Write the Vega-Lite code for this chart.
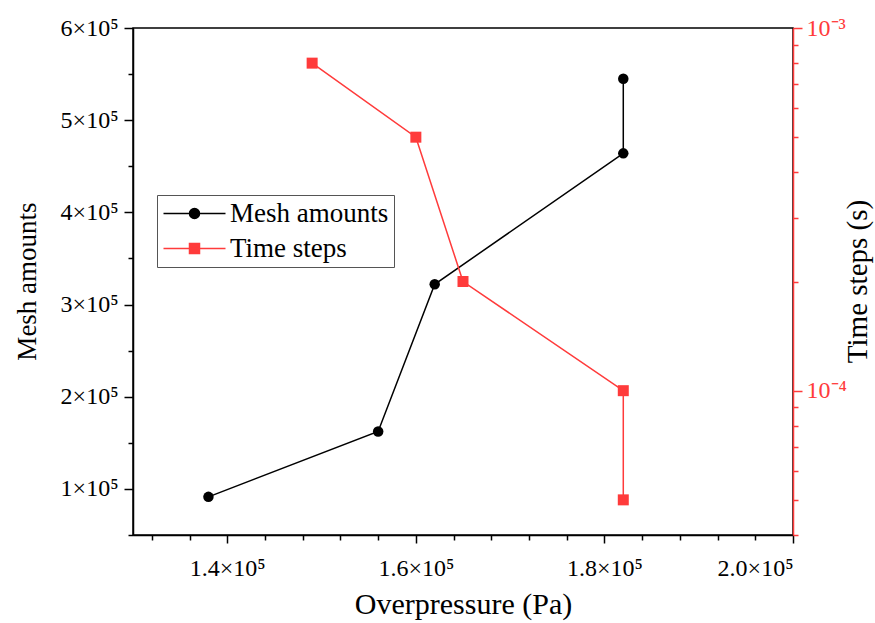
{
  "$schema": "https://vega.github.io/schema/vega-lite/v6.json",
  "width": 660,
  "height": 507,
  "autosize": {"type": "none"},
  "padding": {"left": 133, "top": 28, "right": 82, "bottom": 88},
  "background": "white",
  "config": {
    "font": "Liberation Serif",
    "view": {"stroke": "black", "strokeWidth": 1.5},
    "axis": {
      "grid": false,
      "labelFont": "Liberation Serif",
      "titleFont": "Liberation Serif",
      "labelFontSize": 24,
      "titleFontSize": 28,
      "titleFontWeight": "normal",
      "labelColor": "black",
      "titleColor": "black",
      "domainColor": "black",
      "tickColor": "black",
      "domainWidth": 1.5,
      "tickWidth": 1.5
    }
  },
  "datasets": {
    "mesh": [
      {"i": 1, "p": 138000, "mesh": 91400},
      {"i": 2, "p": 156000, "mesh": 162300},
      {"i": 3, "p": 162000, "mesh": 322000},
      {"i": 4, "p": 182000, "mesh": 464000},
      {"i": 5, "p": 182000, "mesh": 545000}
    ],
    "time": [
      {"i": 1, "p": 149000, "t": 0.0008},
      {"i": 2, "p": 160000, "t": 0.0005},
      {"i": 3, "p": 165000, "t": 0.0002},
      {"i": 4, "p": 182000, "t": 0.0001},
      {"i": 5, "p": 182000, "t": 0.00005}
    ],
    "series": [
      {"s": "Mesh amounts"},
      {"s": "Time steps"}
    ]
  },
  "layer": [
    {
      "data": {"name": "mesh"},
      "mark": {"type": "line", "color": "black", "strokeWidth": 1.5, "point": {"filled": true, "size": 110, "color": "black"}},
      "encoding": {
        "order": {"field": "i", "type": "quantitative"},
        "x": {
          "field": "p", "type": "quantitative",
          "scale": {"domain": [130000, 200000], "nice": false, "zero": false},
          "axis": {
            "orient": "bottom",
            "values": [140000, 160000, 180000, 200000],
            "labelExpr": "format(datum.value/100000, '.1f') + '×10⁵'",
            "tickSize": 8,
            "labelPadding": 13,
            "title": "Overpressure (Pa)",
            "titleFontSize": 30,
            "titlePadding": 9
          }
        },
        "y": {
          "field": "mesh", "type": "quantitative",
          "scale": {"domain": [50000, 600000], "nice": false, "zero": false},
          "axis": {
            "orient": "left",
            "values": [100000, 200000, 300000, 400000, 500000, 600000],
            "labelExpr": "format(datum.value/100000, 'd') + '×10⁵'",
            "tickSize": 9,
            "labelPadding": 6,
            "title": "Mesh amounts",
            "titleFontSize": 27,
            "titleAngle": 270,
            "titleBaseline": "middle",
            "titleX": -106,
            "titleY": 253
          }
        }
      }
    },
    {
      "data": {"name": "time"},
      "mark": {"type": "line", "color": "#ff3b3b", "strokeWidth": 1.5, "point": {"filled": true, "size": 121, "shape": "square", "color": "#ff3b3b"}},
      "encoding": {
        "order": {"field": "i", "type": "quantitative"},
        "x": {
          "field": "p", "type": "quantitative",
          "scale": {"domain": [130000, 200000], "nice": false, "zero": false},
          "axis": null
        },
        "y": {
          "field": "t", "type": "quantitative",
          "scale": {"type": "log", "domain": [0.00004, 0.001], "nice": false},
          "axis": {
            "orient": "right",
            "values": [0.0001, 0.001],
            "labelExpr": "datum.value >= 0.0005 ? '10⁻³' : '10⁻⁴'",
            "domainColor": "#ff3b3b",
            "tickColor": "#ff3b3b",
            "labelColor": "#ff3b3b",
            "tickSize": 9,
            "labelPadding": 4,
            "title": "Time steps (s)",
            "titleFontSize": 29,
            "titleAngle": 270,
            "titleBaseline": "middle",
            "titleX": 64,
            "titleY": 253
          }
        }
      }
    },
    {
      "data": {"name": "mesh"},
      "mark": {"type": "point", "opacity": 0},
      "encoding": {
        "x": {
          "field": "p", "type": "quantitative",
          "scale": {"domain": [130000, 200000], "nice": false, "zero": false},
          "axis": {
            "orient": "bottom",
            "values": [132000, 136000, 144000, 148000, 152000, 156000, 164000, 168000, 172000, 176000, 184000, 188000, 192000, 196000],
            "labels": false, "domain": false, "tickSize": 5, "title": null
          }
        },
        "y": {
          "field": "mesh", "type": "quantitative",
          "scale": {"domain": [50000, 600000], "nice": false, "zero": false},
          "axis": {
            "orient": "left",
            "values": [50000, 150000, 250000, 350000, 450000, 550000],
            "labels": false, "domain": false, "tickSize": 5, "title": null
          }
        }
      }
    },
    {
      "data": {"name": "time"},
      "mark": {"type": "point", "opacity": 0},
      "encoding": {
        "x": {
          "field": "p", "type": "quantitative",
          "scale": {"domain": [130000, 200000], "nice": false, "zero": false},
          "axis": null
        },
        "y": {
          "field": "t", "type": "quantitative",
          "scale": {"type": "log", "domain": [0.00004, 0.001], "nice": false},
          "axis": {
            "orient": "right",
            "values": [0.00004, 0.00005, 0.00006, 0.00007, 0.00008, 0.00009, 0.0002, 0.0003, 0.0004, 0.0005, 0.0006, 0.0007, 0.0008, 0.0009],
            "labels": false, "domain": false, "tickSize": 5, "title": null,
            "tickColor": "#ff3b3b"
          }
        }
      }
    },
    {
      "data": {"name": "series"},
      "mark": {"type": "point", "opacity": 0, "filled": true},
      "encoding": {
        "color": {
          "field": "s", "type": "nominal",
          "scale": {"domain": ["Mesh amounts", "Time steps"], "range": ["black", "#ff3b3b"]},
          "legend": {
            "title": null,
            "orient": "none",
            "legendX": 24,
            "legendY": 167,
            "padding": 5,
            "strokeColor": "#555555",
            "fillColor": "white",
            "symbolSize": 400,
            "symbolOpacity": 1,
            "symbolStrokeWidth": 1.5,
            "labelFont": "Liberation Serif",
            "labelFontSize": 27,
            "labelColor": "black",
            "labelOffset": 41,
            "rowPadding": 7,
            "encode": {
              "symbols": {
                "update": {
                  "fill": {"scale": "color", "field": "value"},
                  "stroke": {"scale": "color", "field": "value"},
                  "strokeWidth": {"value": 1.5},
                  "opacity": {"value": 1}
                }
              }
            }
          }
        },
        "shape": {
          "field": "s", "type": "nominal",
          "scale": {
            "domain": ["Mesh amounts", "Time steps"],
            "range": [
              "M-1.2,0H5.0M1.4,0A0.5,0.5 0 1,0 2.4,0A0.5,0.5 0 1,0 1.4,0Z",
              "M-1.2,0H5.0M1.4,-0.5H2.4V0.5H1.4Z"
            ]
          },
          "legend": null
        }
      }
    }
  ],
  "resolve": {
    "scale": {"x": "independent", "y": "independent"},
    "axis": {"x": "independent", "y": "independent"}
  }
}
